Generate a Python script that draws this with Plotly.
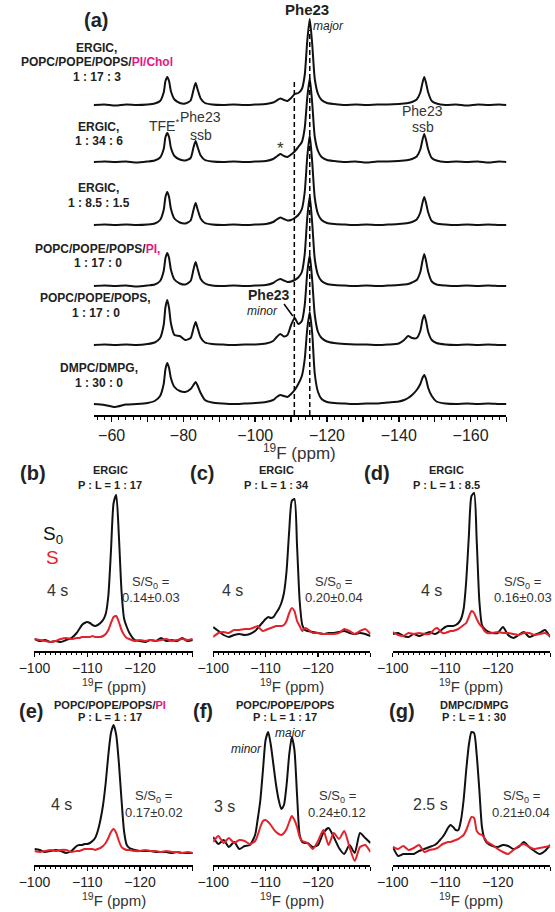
import plotly.graph_objects as go

# ---------------- data ----------------
# panel (a): 19F spectra, chemical shift grid (ppm)
ppm_a = [-55, -58, -61, -64, -67, -70, -72, -73.5, -74.5, -75,
         -75.5, -76, -76.5, -77.5, -79, -80.5, -82, -82.8, -83.4, -84,
         -84.8, -86, -88, -91, -94, -97, -100, -103, -105, -106,
         -107, -108, -109, -110, -111, -112, -113, -113.8, -114.5, -115.2,
         -115.9, -116.6, -117.5, -118.5, -120, -122, -125, -128, -131, -134,
         -137, -140, -141.5, -142.6, -143.7, -145, -146, -146.6, -147.1, -147.6,
         -148.2, -149.2, -150.5, -153, -156, -159, -162, -165, -168, -170]

a_ergic_17_3 = [0, 0.5, -0.5, 0.5, 0, 0.5, 1.5, 4, 12.5, 24,
                28, 24, 14, 5.5, 2, 1.5, 4.5, 15, 22, 15,
                6.5, 2, 0.5, 0, 0.5, 0, 0.5, 1, 2.5, 4.5,
                6.5, 5, 4, 7, 11, 12, 16, 30, 64, 86,
                60, 26, 11, 5, 2, 1, 0, 0.5, 0, 0.5,
                0.5, 1, 1.5, 2, 3, 5.5, 12.5, 22, 28, 22,
                12.5, 4, 1.5, 0, 0.5, -0.5, 0.5, 0, 0.5, 0]
a_ergic_34_6 = [0, 0.5, 0, 0.5, -0.5, 0.5, 1.5, 4.5, 13, 25,
                29, 25, 14.5, 6, 2.5, 1.5, 4, 14.5, 21, 14.5,
                6.5, 2, 0.5, 0, 0.5, 0, 0.5, 1, 3, 5.5,
                8, 6, 5, 7.5, 10.5, 15, 20, 34, 64, 84,
                58, 25, 11, 5, 2, 1, 0, 0.5, -0.5, 0.5,
                0.5, 1, 1.5, 2, 3, 5.5, 12.5, 22, 28, 22,
                12.5, 4, 1.5, 0, 0.5, 0, 0.5, -0.5, 0.5, 0]
a_ergic_85_15 = [0, 0.5, 0, 0.5, 0, 0.5, 1.5, 5, 15, 28,
                 33, 28, 16.5, 6.5, 2.5, 1.5, 4.5, 15, 22, 15,
                 6.5, 2, 0.5, 0, 0.5, 0, 0.5, 1, 3, 5.5,
                 7.5, 6, 4.5, 5, 7, 10, 16, 33, 68, 90,
                 62, 27, 11, 5, 2, 1, 0.5, 0, 0.5, 0,
                 0.5, 1, 1.5, 2, 3, 5.5, 12.5, 22, 28, 22,
                 12.5, 4, 1.5, 0.5, 0, 0.5, 0, 0.5, 0, 0]
a_pcpeps_pi = [0, 0.5, 0, 0.5, -0.5, 0.5, 1.5, 5, 15, 28,
               33, 28, 16.5, 6.5, 2.5, 1.5, 5, 16.5, 24, 16.5,
               7, 2.5, 0.5, 0, 0.5, 0, 0.5, 1, 3, 5.5,
               7, 5.5, 4, 4.5, 6, 8.5, 14, 32, 68, 90,
               62, 27, 11, 5, 2, 1, 0.5, 0, 0.5, 0,
               0.5, 1, 1.5, 2, 3.5, 6, 14, 25, 32, 25,
               14, 4.5, 1.5, 0.5, 0, 0.5, 0, 0.5, 0, 0]
a_pcpeps = [0, 0.5, 0, 0.5, 0, 1, 2.5, 7, 20, 38,
            45, 37, 22, 10, 9, 5, 7, 16.5, 23, 16.5,
            7.5, 2.5, 1, 0.5, 0, 0.5, 0.5, 1.5, 4, 8,
            11, 8.5, 10, 20, 27, 21, 24, 40, 72, 90,
            64, 30, 13, 7, 3.5, 2, 1, 0.5, 0.5, 0,
            0.5, 1.5, 5, 9, 7, 7, 14, 25, 30, 24,
            13, 5, 2, 0.5, 0, 0.5, 0, 0.5, 0, 0]
a_dmpc_dmpg = [0, -1, -3, -0.5, 0, 1, 3, 8, 20, 35,
               41, 36, 26, 17, 13, 12, 15, 19, 22, 18,
               11, 4, 1.5, 0.5, 0, 0.5, 1, 2, 4, 7,
               9, 8, 7, 10, 14, 20, 28, 45, 75, 92,
               70, 30, 12, 5, 2, 1, 0.5, 0, 0.5, 0.5,
               1.5, 2.5, 4, 6, 9, 14, 20, 26, 29, 25,
               16, 8, 2.5, 0.5, 0, 0.5, 0, 0.5, 0, 0]

a_sample_lines = [
    ["ERGIC,", "POPC/POPE/POPS/PI/Chol", "1 : 17 : 3"],
    ["ERGIC,", "1 : 34 : 6"],
    ["ERGIC,", "1 : 8.5 : 1.5"],
    ["POPC/POPE/POPS/PI,", "1 : 17 : 0"],
    ["POPC/POPE/POPS,", "1 : 17 : 0"],
    ["DMPC/DMPG,", "1 : 30 : 0"],
]
a_ref_shifts = [-110.9, -115.2]   # dashed reference lines (minor, major)
a_tick_vals = [-60, -70, -80, -90, -100, -110, -120, -130, -140, -150, -160, -170]
a_tick_text = ["\u221260", "", "\u221280", "", "\u2212100", "", "\u2212120", "",
               "\u2212140", "", "\u2212160", ""]

# panels (b)-(g): S0 (black) and S (red)
ppm_s = [-100, -101, -102, -103, -104, -105, -106, -107, -108, -108.5,
         -109, -109.5, -110, -110.5, -111, -111.5, -112, -112.5, -113, -113.5,
         -114, -114.5, -115, -115.5, -116, -116.5, -117, -117.5, -118, -119,
         -120, -121, -122, -123, -124, -125, -126, -127, -128, -129,
         -130]
b_S0 = [2, 0, 1, -1, 0, -1, 1, 3, 8, 12,
        16, 18, 19, 18, 16, 15, 16, 18, 21, 27,
        45, 90, 138, 146, 105, 50, 22, 14, 8, 1,
        0, -1, 1, 0, 3, 0, 1, 0, 3, 0,
        1]
b_S = [2, 1, 0, -1, 0, 2, 3, 2, 3, 3,
       4, 4, 4, 4, 5, 4, 4, 4, 5, 7,
       11, 18, 24, 25, 19, 11, 6, 3, 2, 0,
       1, 0, 1, 0, 1, 2, 0, 1, 2, 1,
       2]
c_S0 = [14, 10, 6, 4, 6, 7, 6, 7, 10, 13,
        16, 19, 22, 24, 23, 24, 28, 32, 38, 48,
        70, 110, 140, 142, 95, 40, 16, 11, 10, 9,
        8, 7, 8, 8, 9, 10, 8, 7, 8, 7,
        5]
c_S = [4, 8, 9, 8, 11, 11, 12, 12, 14, 15,
       12, 10, 11, 12, 13, 14, 15, 15, 15, 16,
       20, 28, 33, 30, 20, 15, 10, 13, 12, 8,
       8, 7, 7, 7, 8, 12, 10, 7, 10, 12,
       7]
d_S0 = [7, 8, 5, 4, 7, 5, 7, 9, 7, 8,
        10, 12, 14, 15, 15, 15, 16, 18, 22, 32,
        60, 105, 145, 148, 100, 40, 16, 12, 10, 8,
        8, 14, 6, 3, 6, 9, 4, 6, 8, 11,
        4]
d_S = [9, 6, 5, 8, 7, 8, 7, 7, 12, 13,
       10, 8, 8, 9, 10, 10, 11, 12, 14, 16,
       18, 24, 30, 28, 22, 17, 14, 10, 8, 8,
       9, 8, 8, 7, 6, 8, 8, 6, 7, 8,
       5]
e_S0 = [6, 5, 3, 4, 5, 4, 2, 4, 9, 10,
        10, 11, 11, 12, 14, 17, 24, 35, 50, 72,
        100, 122, 130, 120, 92, 55, 23, 10, 7, 5,
        4, 4, 4, 3, 3, 3, 2, 3, 2, 2,
        2]
e_S = [4, 3, 4, 5, 4, 5, 5, 3, 4, 4,
       5, 6, 6, 6, 6, 5, 6, 7, 9, 12,
       17, 23, 26, 22, 14, 8, 6, 5, 5, 4,
       4, 5, 4, 4, 3, 4, 3, 3, 2, 3,
       2]
f_S0 = [18, 11, 15, 8, 13, 6, 9, 10, 20, 36,
        55, 85, 115, 123, 110, 90, 70, 55, 46, 50,
        70, 100, 118, 105, 60, 20, 13, 12, 12, 8,
        10, 22, 27, 18, 7, 1, 10, 2, 22, 17,
        12]
f_S = [13, 19, 12, 17, 12, 15, 14, 11, 14, 20,
       28, 34, 35, 33, 30, 26, 23, 21, 20, 22,
       26, 33, 39, 35, 28, 18, 14, 13, 12, 6,
       14, 25, 10, 22, 16, 24, 8, -6, 8, 10,
       3]
g_S0 = [8, -1, 1, 1, 1, 4, 6, 8, 10, 12,
        15, 18, 22, 27, 30, 28, 25, 25, 35, 55,
        85, 110, 123, 122, 100, 65, 28, 16, 12, 9,
        8, 10, 9, 6, 8, 13, 8, 4, 1, 4,
        10]
g_S = [8, 6, 9, 5, 7, 10, 3, 5, 6, 7,
       9, 11, 12, 13, 13, 14, 15, 16, 18, 20,
       25, 32, 38, 37, 24, 21, 20, 17, 13, 10,
       6, 3, 1, 5, 9, 11, 8, 6, 7, 8,
       9]

panel_letters = ["(b)", "(c)", "(d)", "(e)", "(f)", "(g)"]
panel_lipids = ["ERGIC", "ERGIC", "ERGIC", "POPC/POPE/POPS/PI", "POPC/POPE/POPS", "DMPC/DMPG"]
panel_ratios = ["P : L = 1 : 17", "P : L = 1 : 34", "P : L = 1 : 8.5",
                "P : L = 1 : 17", "P : L = 1 : 17", "P : L = 1 : 30"]
mixing_times = ["4 s", "4 s", "4 s", "4 s", "3 s", "2.5 s"]
s_over_s0 = ["0.14\u00b10.03", "0.20\u00b10.04", "0.16\u00b10.03",
             "0.17\u00b10.02", "0.24\u00b10.12", "0.21\u00b10.04"]
s_tick_vals = [-100, -110, -120, -130]
s_tick_text = ["\u2212100", "\u2212110", "\u2212120", ""]

# ---------------- figure ----------------
W, H = 555, 912
FONT = "Liberation Sans, Arial, Helvetica, sans-serif"
BLACK = "#111111"
RED = "#e4222b"
PINK = "#e5177e"
TXT = "#333333"


def fx(px):
    return px / W


def fy(py):
    return 1 - py / H


def pinkify(s):
    if "/PI" in s:
        i = s.index("/PI") + 1
        return s[:i] + "<span style='color:%s'>%s</span>" % (PINK, s[i:])
    return s


def text(t, x, y, size, color=TXT, xanchor="center", yanchor="middle"):
    fig.add_annotation(text=t, x=fx(x), y=fy(y), xref="paper", yref="paper",
                       showarrow=False, xanchor=xanchor, yanchor=yanchor,
                       font=dict(size=size, color=color, family=FONT))


fig = go.Figure()

# panel (a) stacked spectra
a_traces = [a_ergic_17_3, a_ergic_34_6, a_ergic_85_15, a_pcpeps_pi, a_pcpeps, a_dmpc_dmpg]
stack_offsets = [299, 242, 179, 118, 59, 0]
for vals, off in zip(a_traces, stack_offsets):
    fig.add_trace(go.Scatter(x=ppm_a, y=[v + off for v in vals], mode="lines",
                             line=dict(color=BLACK, width=2, shape="spline", smoothing=0.6),
                             xaxis="x", yaxis="y", showlegend=False, hoverinfo="skip"))

layout = dict(width=W, height=H, autosize=False, margin=dict(l=0, r=0, t=0, b=0),
              paper_bgcolor="white", plot_bgcolor="white", showlegend=False,
              font=dict(family=FONT, color=TXT))

layout["xaxis"] = dict(domain=[fx(80), fx(505)], range=[-55, -170], anchor="y",
                       tickmode="array", tickvals=a_tick_vals, ticktext=a_tick_text,
                       ticks="outside", ticklen=5, tickwidth=1.5, tickcolor="black",
                       showline=True, linewidth=1.5, linecolor="black",
                       showgrid=False, zeroline=False,
                       tickfont=dict(size=16, family=FONT, color="#222"),
                       minor=dict(tickmode="linear", tick0=0, dtick=2, ticks="outside",
                                  ticklen=3, tickwidth=1, tickcolor="black", showgrid=False))
layout["yaxis"] = dict(domain=[fy(415), fy(5)], range=[-11, 399], visible=False,
                       anchor="x", fixedrange=True)

# small panels
small_sets = [(b_S0, b_S), (c_S0, c_S), (d_S0, d_S), (e_S0, e_S), (f_S0, f_S), (g_S0, g_S)]
x_spans = [(19, 182), (203, 365), (388, 550), (19, 182), (203, 365), (388, 550)]
row_geom = [(651, 484, 641), (651, 484, 641), (651, 484, 641),
            (865, 719, 855), (865, 719, 855), (865, 719, 855)]
title_bottom = [697, 697, 697, 911, 911, 911]

for i, ((s0, s), (xl, xr), (ybot, ytop, ybase)) in enumerate(zip(small_sets, x_spans, row_geom)):
    k = i + 2
    xa, ya = "x%d" % k, "y%d" % k
    fig.add_trace(go.Scatter(x=ppm_s, y=s0, mode="lines",
                             line=dict(color=BLACK, width=2, shape="spline", smoothing=0.6),
                             xaxis=xa, yaxis=ya, showlegend=False, hoverinfo="skip"))
    fig.add_trace(go.Scatter(x=ppm_s, y=s, mode="lines",
                             line=dict(color=RED, width=2, shape="spline", smoothing=0.6),
                             xaxis=xa, yaxis=ya, showlegend=False, hoverinfo="skip"))
    layout["xaxis%d" % k] = dict(domain=[fx(xl), fx(xr)], range=[-100, -130], anchor=ya,
                                 tickmode="array", tickvals=s_tick_vals, ticktext=s_tick_text,
                                 ticks="outside", ticklen=4, tickwidth=1.2, tickcolor="black",
                                 showline=True, linewidth=1.5, linecolor="black",
                                 showgrid=False, zeroline=False,
                                 tickfont=dict(size=14, family=FONT, color="#222"),
                                 minor=dict(tickmode="linear", tick0=0, dtick=1, ticks="outside",
                                            ticklen=2.5, tickwidth=1, tickcolor="black",
                                            showgrid=False))
    layout["yaxis%d" % k] = dict(domain=[fy(ybot), fy(ytop)],
                                 range=[-(ybot - ybase), ybase - ytop],
                                 visible=False, anchor=xa, fixedrange=True)

fig.update_layout(**layout)

# dashed reference lines in (a)
for shift, ytop_px in zip(a_ref_shifts, [80, 30]):
    fig.add_shape(type="line", xref="x", yref="y", x0=shift, x1=shift,
                  y0=-11, y1=404 - ytop_px,
                  line=dict(color="black", width=1.5, dash="5px,3px"))

# pointer line for "Phe23 minor"
fig.add_shape(type="line", xref="paper", yref="paper",
              x0=fx(276), y0=fy(304), x1=fx(285), y1=fy(316),
              line=dict(color="black", width=1.5))

# ---- texts for (a)
text("<b>(a)</b>", 82, 20, 20, "#222")
text("<b>Phe23</b>", 300, 10, 15, "#222")
text("<i>major</i>", 322, 26, 12, "#222")
label_y = [[48, 62, 77], [127, 141], [188, 203], [249, 263], [298, 313], [368, 383]]
label_x = [83, 85, 85, 84, 82, 85]
for lines, ys, xc in zip(a_sample_lines, label_y, label_x):
    for ln, yy in zip(lines, ys):
        text("<b>%s</b>" % pinkify(ln), xc, yy, 12, "#222")

text("TFE<sup>*</sup>", 152, 125, 14)
text("Phe23", 190, 117, 14)
text("ssb", 190, 135, 14)
text("*", 272, 149, 17)
text("Phe23", 419, 111, 14)
text("ssb", 419, 127, 14)
text("<b>Phe23</b>", 260, 295, 14, "#222")
text("<i>minor</i>", 254, 311, 12, "#222")
text("<sup>19</sup>F (ppm)", 292, 439, 17, yanchor="top")

# ---- texts for (b)-(g)
letter_pos = [(17, 473), (192, 473), (372, 473), (15, 711), (193, 711), (397, 711)]
title_pos = [(97, 470, 485), (268, 470, 485), (443, 470, 485),
             (97, 705, 717), (277, 705, 717), (472, 705, 717)]
time_pos = [(43, 590), (223, 590), (428, 590), (47, 804), (215, 806), (427, 804)]
ratio_pos = [(139, 582, 597), (327, 582, 597), (522, 582, 597),
             (142, 796, 812), (331, 796, 812), (520, 796, 812)]
for i in range(6):
    lx, ly = letter_pos[i]
    text("<b>%s</b>" % panel_letters[i], lx, ly, 20, "#222")
    tx, ty1, ty2 = title_pos[i]
    text("<b>%s</b>" % pinkify(panel_lipids[i]), tx, ty1, 11, "#222")
    text("<b>%s</b>" % panel_ratios[i], tx, ty2, 11, "#222")
    mx, my = time_pos[i]
    text(mixing_times[i], mx, my, 16)
    rx, ry1, ry2 = ratio_pos[i]
    text("S/S<sub>0</sub> =", rx, ry1, 13)
    text(s_over_s0[i], rx, ry2, 13)
    xl, xr = x_spans[i]
    text("<sup>19</sup>F (ppm)", (xl + xr) / 2, title_bottom[i], 15, yanchor="bottom")

text("S<sub>0</sub>", 38, 535, 19, "#111")
text("S", 38, 557, 19, RED)
text("<i>minor</i>", 237, 749, 12, "#222")
text("<i>major</i>", 283, 733, 12, "#222")

fig.write_html("out.html",
               config={"displayModeBar": False, "staticPlot": True},
               post_script="document.body.style.margin='0';document.body.style.overflow='hidden';")
